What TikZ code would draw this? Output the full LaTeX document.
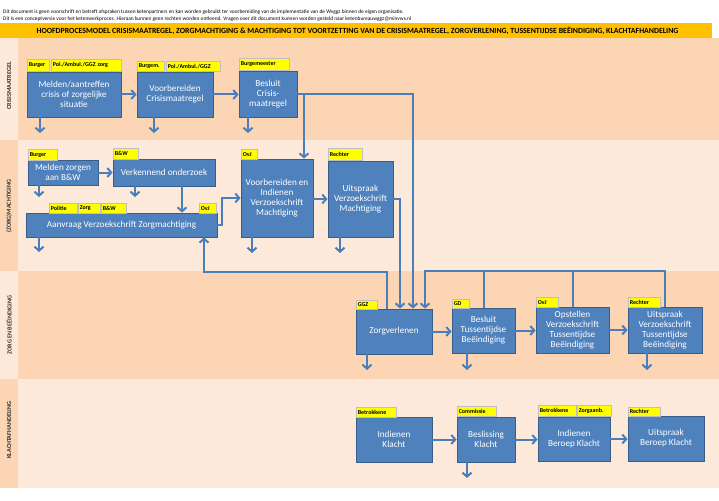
\documentclass[tikz,border=0pt]{standalone}
\usepackage{fontspec}
\setmainfont{Carlito}
\usetikzlibrary{arrows.meta}
\definecolor{boxblue}{HTML}{4F81BD}
\definecolor{boxborder}{HTML}{385D8A}
\definecolor{conn}{HTML}{4A7EBB}
\definecolor{labgray}{HTML}{BFBFBF}
\definecolor{lanedark}{HTML}{FCD5B4}
\definecolor{lanelight}{HTML}{FDE9D9}
\definecolor{titlebar}{HTML}{FFC000}
\definecolor{labyellow}{HTML}{FFFF00}
\newcommand\lbl[6]{%
  \pgfmathsetmacro\lw{#4-#2-3}\pgfmathsetmacro\lh{#5-#3}%
  \node[lab, text width=\lw pt, minimum height=\lh pt] (#1) at (#2,#3) {#6};}
\begin{document}
\begin{tikzpicture}[x=1pt,y=-1pt,
  box/.style={draw=boxborder, fill=boxblue, line width=0.8pt, text=white,
    font=\fontsize{9.2}{10}\selectfont, align=center, inner sep=1pt},
  lab/.style={draw=labgray, fill=labyellow, line width=0.6pt,
    font=\fontsize{6}{6}\selectfont\bfseries, inner xsep=1.5pt, inner ysep=0pt,
    anchor=north west, align=left},
  arr/.style={draw=conn, line width=2pt, -{Straight Barb[length=4pt,width=9pt]}},
  conline/.style={draw=conn, line width=2pt},
  lanelab/.style={font=\fontsize{6.2}{6}\selectfont\bfseries, text=black!80, rotate=90},
  disc/.style={font=\fontsize{5.4}{5}\selectfont, anchor=west, inner sep=0pt}
]
\useasboundingbox (0,0) rectangle (719,500);
% lanes
\fill[lanelight] (0,38) rectangle (18,140);
\fill[lanedark] (18,38) rectangle (719,140);
\fill[lanedark] (0,140) rectangle (18,271);
\fill[lanelight] (18,140) rectangle (719,271);
\fill[lanelight] (0,271) rectangle (18,379);
\fill[lanedark] (18,271) rectangle (719,379);
\fill[lanedark] (0,379) rectangle (18,488);
\fill[lanelight] (18,379) rectangle (719,488);
% title
\fill[titlebar] (0,23) rectangle (712,38);
\node[font=\fontsize{7.85}{8}\selectfont\bfseries, inner sep=0pt] (title) at (357.5,30.5)
  {HOOFDPROCESMODEL CRISISMAATREGEL, ZORGMACHTIGING \& MACHTIGING TOT VOORTZETTING VAN DE CRISISMAATREGEL, ZORGVERLENING, TUSSENTIJDSE BEËINDIGING, KLACHTAFHANDELING};
\node[disc] (d1) at (3,12) {Dit document is geen voorschrift en betreft afspraken tussen ketenpartners en kan worden gebruikt ter voorbereiding van de implementatie van de Wvggz binnen de eigen organisatie.};
\node[disc] (d2) at (3,19.5) {Dit is een conceptversie voor het ketenwerkproces. Hieraan kunnen geen rechten worden ontleend. Vragen over dit document kunnen worden gesteld naar ketenbureauwggz@minvws.nl};
% lane labels
\node[lanelab] (ll1) at (9,86) {CRISISMAATREGEL};
\node[lanelab] (ll2) at (9,206) {(ZORG)MACHTIGING};
\node[lanelab] (ll3) at (9,325) {ZORG EN BEËINDIGING};
\node[lanelab] (ll4) at (9,430) {KLACHTAFHANDELING};
% boxes
\node[box, minimum width=94pt, minimum height=45pt] (n1) at (74,94.5) {Melden/aantreffen\\crisis of zorgelijke\\situatie};
\node[box, minimum width=76pt, minimum height=45pt] (n2) at (175,94.5) {Voorbereiden\\Crisismaatregel};
\node[box, minimum width=58pt, minimum height=46pt] (n3) at (268,94) {Besluit\\Crisis-\\maatregel};
\node[box, minimum width=70pt, minimum height=25pt] (n4) at (63,172.5) {Melden zorgen\\aan B\&W};
\node[box, minimum width=102pt, minimum height=27pt] (n5) at (164,172.5) {Verkennend onderzoek};
\node[box, minimum width=191pt, minimum height=24pt] (n6) at (121.5,225) {Aanvraag Verzoekschrift Zorgmachtiging};
\node[box, minimum width=72pt, minimum height=78pt] (n7) at (277,198) {Voorbereiden en\\Indienen\\Verzoekschrift\\Machtiging};
\node[box, minimum width=65pt, minimum height=76pt] (n8) at (360.5,199) {Uitspraak\\Verzoekschrift\\Machtiging};
\node[box, minimum width=76pt, minimum height=45pt] (n9) at (394,331.5) {Zorgverlenen};
\node[box, minimum width=63pt, minimum height=45pt] (n10) at (483.5,330.5) {Besluit\\Tussentijdse\\Beëindiging};
\node[box, minimum width=73pt, minimum height=46pt] (n11) at (572.5,330) {Opstellen\\Verzoekschrift\\Tussentijdse\\Beëindiging};
\node[box, minimum width=74pt, minimum height=46pt] (n12) at (665,330) {Uitspraak\\Verzoekschrift\\Tussentijdse\\Beëindiging};
\node[box, minimum width=76pt, minimum height=45pt] (n13) at (394,439.5) {Indienen\\Klacht};
\node[box, minimum width=58pt, minimum height=45pt] (n14) at (486,439.5) {Beslissing\\Klacht};
\node[box, minimum width=72pt, minimum height=44pt] (n15) at (574,439) {Indienen\\Beroep Klacht};
\node[box, minimum width=76pt, minimum height=45pt] (n16) at (666,438.5) {Uitspraak\\Beroep Klacht};
% yellow labels
\lbl{l1a}{27}{59}{49}{71}{Burger}
\lbl{l1b}{51}{59}{121}{71}{Pol./Ambul./GGZ zorg}
\lbl{l2a}{137}{61}{164}{71}{Burgem.}
\lbl{l2b}{166}{61}{220}{71}{Pol./Ambul./GGZ}
\lbl{l3}{239}{58}{289}{70}{Burgemeester}
\lbl{l4}{28}{149}{57}{160}{Burger}
\lbl{l5}{113}{148}{138}{159}{B\&W}
\lbl{l6a}{49}{203}{77}{213}{Politie}
\lbl{l6b}{78}{203}{100}{213}{Zorg}
\lbl{l6c}{101}{203}{126}{213}{B\&W}
\lbl{l6d}{199}{203}{216}{213}{OvJ}
\lbl{l7}{241}{149}{257}{159}{OvJ}
\lbl{l8}{328}{148}{362}{160}{Rechter}
\lbl{l9}{356}{300}{377}{309}{GGZ}
\lbl{l10}{452}{299}{469}{308}{GD}
\lbl{l11}{536}{297}{558}{307}{OvJ}
\lbl{l12}{628}{297}{660}{307}{Rechter}
\lbl{l13}{356}{407}{396}{417}{Betrokkene}
\lbl{l14}{457}{406}{496}{416}{Commissie}
\lbl{l15a}{538}{405}{576}{416}{Betrokkene}
\lbl{l15b}{577}{405}{611}{416}{Zorgaanb.}
\lbl{l16}{628}{407}{660}{416}{Rechter}
% free ends of the short down arrows
\coordinate (s1) at (40,133);
\coordinate (s2) at (154,133);
\coordinate (s3) at (248,133);
\coordinate (s4) at (39,197);
\coordinate (s5) at (135,197);
\coordinate (s6) at (39,252);
\coordinate (s7) at (252,253);
\coordinate (s8) at (340,253);
\coordinate (s9) at (367,370);
\coordinate (s10) at (467,370);
\coordinate (s12) at (647,370);
\coordinate (s14) at (467,478);
\foreach \b/\s in {n1/s1,n2/s2,n3/s3,n4/s4,n5/s5,n6/s6,n7/s7,n8/s8,n9/s9,n10/s10,n12/s12,n14/s14}
  \draw[arr] (\b.south -| \s) -- (\s);
% junction coordinates
\coordinate (j1) at (413,94);
\coordinate (j2) at (304,94);
\coordinate (j3) at (182,0);
\coordinate (j4) at (222,0);
\coordinate (j5) at (400,0);
\coordinate (j6) at (387,0);
\coordinate (j7) at (204,272);
\coordinate (j8) at (425,271);
% horizontal flow
\draw[arr] (n1.east) -- (n2.west);
\draw[arr] (n2.east) -- (n3.west |- n2.east);
\draw[arr] (n4.east) -- (n5.west |- n4.east);
\draw[arr] (n7.east |- n8.west) -- (n8.west);
\draw[arr] (n9.east) -- (n10.west |- n9.east);
\draw[arr] (n10.east) -- (n11.west |- n10.east);
\draw[arr] (n11.east) -- (n12.west);
\draw[arr] (n13.east) -- (n14.west);
\draw[arr] (n14.east) -- (n15.west |- n14.east);
\draw[arr] (n15.east) -- (n16.west |- n15.east);
% crisis decision to machtiging and zorg
\draw[arr] (n3.east) -- (j1) -- (j1 |- n9.north);
\draw[arr] (j2) -- (j2 |- n7.north);
% lane 2
\draw[arr] (n5.south -| j3) -- (n6.north -| j3);
\draw[arr] (n6.east) -- (n6.east -| j4) |- (n7.west);
\draw[arr] (n8.east) -| (n9.north -| j5);
% return from zorgverlenen to aanvraag
\draw[arr] (n9.north -| j6) |- (j7) -- (n6.south -| j7);
% returns from beeindiging boxes to zorgverlenen
\draw[conline] (n10.north) -- (n10.north |- j8);
\draw[conline] (n11.north) -- (n11.north |- j8);
\draw[arr] (n12.north) |- (j8) -- (n9.north -| j8);
\end{tikzpicture}
\end{document}
